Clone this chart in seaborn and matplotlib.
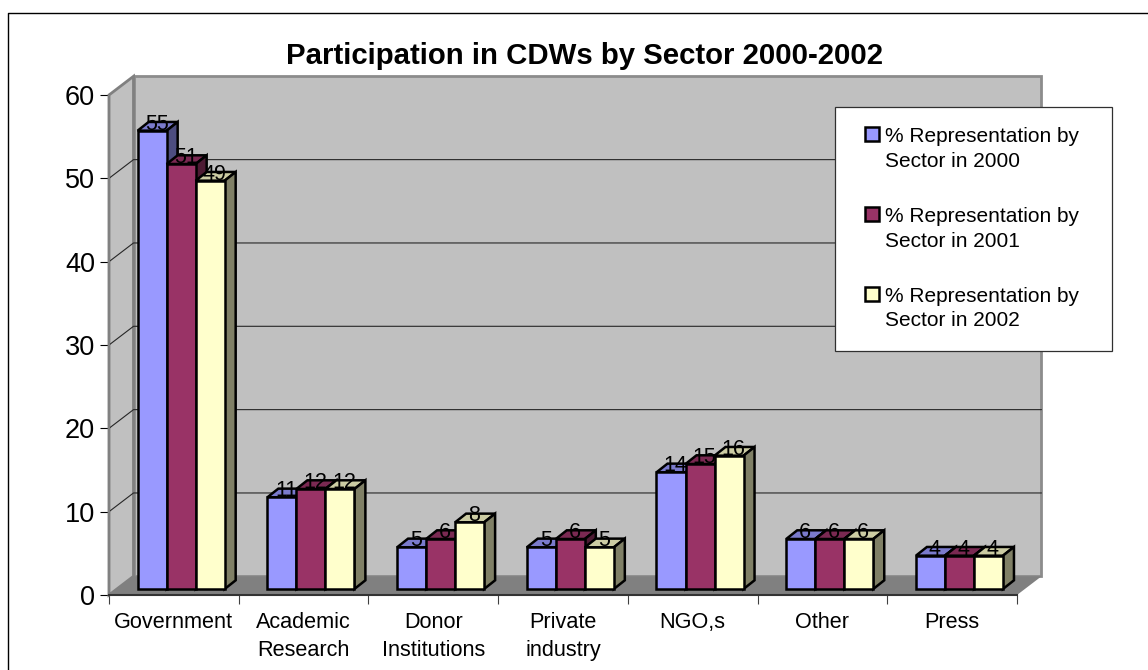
import numpy as np
import pandas as pd
import matplotlib
matplotlib.use("Agg")
import matplotlib.pyplot as plt
import seaborn as sns
from matplotlib.colors import to_rgb
from matplotlib.lines import Line2D
from matplotlib.patches import Patch, Polygon, Rectangle
from matplotlib.legend_handler import HandlerPatch
from matplotlib.transforms import Affine2D, IdentityTransform

# Data
sectors = ['Government', 'Academic\nResearch', 'Donor\nInstitutions', 'Private\nindustry',
           'NGO,s', 'Other', 'Press']
series_names = ['% Representation by\nSector in 2000',
                '% Representation by\nSector in 2001',
                '% Representation by\nSector in 2002']
values_2000 = [55, 11, 5, 5, 14, 6, 4]
values_2001 = [51, 12, 6, 6, 15, 6, 4]
values_2002 = [49, 12, 8, 5, 16, 6, 4]
bar_colors = ['#9999FF', '#993366', '#FFFFCC']
y_ticks = [0, 10, 20, 30, 40, 50, 60]

W, H = 1148, 670

sns.set_style("white", {'text.color': 'black', 'xtick.color': 'black', 'ytick.color': 'black'})
plt.rcParams['font.family'] = ['Liberation Sans', 'DejaVu Sans']

df = pd.DataFrame({
    'sector': sectors * 3,
    'series': [s for s in series_names for _ in sectors],
    'value': values_2000 + values_2001 + values_2002,
})

fig = plt.figure(figsize=(W / 100, H / 100), dpi=100)
ax = fig.add_axes([109 / W, (H - 595) / H, 908 / W, 500 / H])

sns.barplot(data=df, x='sector', y='value', hue='series', hue_order=series_names,
            palette=bar_colors, saturation=1, width=0.671, gap=0, edgecolor='black',
            linewidth=1.8, ax=ax, legend=False)
ax.set_xlim(-0.5, len(sectors) - 0.5)
ax.set_ylim(0, 60)
ax.set_xlabel('')
ax.set_ylabel('')

# depth of the box and of the bars, in pixels
wall_dx, wall_dy = 24.5, 18.7
bar_dx, bar_dy = 11, 8.7
shift_x, shift_y = 7.3, 6


def to_px(x, y):
    return ax.transData.transform((x, y))


def add_poly(points, color, z, edge='none', lw=0):
    ax.add_patch(Polygon(points, closed=True, facecolor=color, edgecolor=edge, linewidth=lw,
                         transform=IdentityTransform(), clip_on=False, zorder=z,
                         joinstyle='miter'))


# walls and floor
x0, x1 = ax.get_xlim()
y0, y1 = ax.get_ylim()
ll, lr, ul = to_px(x0, y0), to_px(x1, y0), to_px(x0, y1)
ur = to_px(x1, y1)
d = np.array([wall_dx, wall_dy])
ax.patch.set_visible(False)
add_poly([ll + d, lr + d, ur + d, ul + d], '#C0C0C0', 0.5, '#8C8C8C', 2)
add_poly([ll, ll + d, ul + d, ul], '#C0C0C0', 0.6, '#808080', 2)
add_poly([ll, lr, lr + d, ll + d], '#808080', 0.7)

# gridlines on both walls
for t in y_ticks[1:-1]:
    a, b = to_px(x0, t), to_px(x1, t)
    ax.add_line(Line2D([a[0], a[0] + wall_dx, b[0] + wall_dx], [a[1], a[1] + wall_dy, b[1] + wall_dy],
                       color='#262626', lw=0.8, transform=IdentityTransform(), clip_on=False, zorder=1))

# bars: move the fronts off the wall, add top and side, label
shift = ax.transData + Affine2D().translate(shift_x, shift_y)
for i, (container, color) in enumerate(zip(ax.containers, bar_colors)):
    rgb = np.array(to_rgb(color))
    for bar in container:
        bar.set_transform(shift)
        bar.set_clip_on(False)
        bar.set_zorder(4 + i * 2)
        bar.set_joinstyle('miter')
        bx, bw, bh = bar.get_x(), bar.get_width(), bar.get_height()
        a = to_px(bx, bh) + (shift_x, shift_y)
        b = to_px(bx + bw, bh) + (shift_x, shift_y)
        c = to_px(bx + bw, 0) + (shift_x, shift_y)
        e = np.array([bar_dx, bar_dy])
        add_poly([a, b, b + e, a + e], rgb * 0.8, 3 + i * 2, 'black', 1.8)
        add_poly([b, c, c + e, b + e], rgb * 0.5, 3 + i * 2, 'black', 1.8)
        ax.text(bx + bw / 2, bh, f'{bh:.0f}', ha='center', va='baseline', fontsize=15.5,
                color='black', zorder=20, clip_on=False,
                transform=ax.transData + Affine2D().translate(shift_x + 4.5, shift_y + 1))

# axes
for side in ['top', 'right']:
    ax.spines[side].set_visible(False)
ax.spines['left'].set_color('#808080')
ax.spines['left'].set_linewidth(1.5)
ax.spines['bottom'].set_color('#333333')
ax.spines['bottom'].set_linewidth(1.5)
for sp in ax.spines.values():
    sp.set_zorder(2)

ax.set_yticks(y_ticks)
ax.tick_params(axis='y', length=6.5, width=0.8, color='black', labelsize=19.5, pad=3.5, left=True)
ax.set_xticks(np.arange(len(sectors) + 1) - 0.5, [''] * (len(sectors) + 1))
ax.set_xticks(np.arange(len(sectors)), sectors, minor=True)
ax.tick_params(axis='x', which='major', length=6.5, width=0.8, color='#404040', bottom=True)
ax.tick_params(axis='x', which='minor', length=0, labelsize=15.6, pad=12.2, bottom=False)
for lab in ax.get_xticklabels(minor=True):
    lab.set_linespacing(1.45)

fig.text(585 / W, (H - 56.5) / H, 'Participation in CDWs by Sector 2000-2002', ha='center', va='center',
         fontsize=21.2, fontweight='bold', color='black')


# legend: swatch sits beside the first line of its label
def swatch(legend, orig_handle, xdescent, ydescent, width, height, fontsize):
    size = 10
    return Rectangle((width - size - xdescent - 1, height + 0.5), size, size)


handles = [Patch(facecolor=c, edgecolor='black', linewidth=1.8) for c in bar_colors]
leg = ax.legend(handles, series_names, loc='upper left',
                bbox_to_anchor=(835 / W, (H - 347) / H, 277 / W, 240 / H), bbox_transform=fig.transFigure,
                mode='expand', borderaxespad=0, borderpad=0.97, fontsize=15, labelspacing=1.73,
                handlelength=1.22, handletextpad=0.2, fancybox=False, framealpha=1,
                edgecolor='#303030', handler_map={Patch: HandlerPatch(patch_func=swatch)})
leg.get_frame().set_linewidth(0.9)
leg.set_zorder(30)
for t in leg.get_texts():
    t.set_linespacing(1.38)
    t.set_color('black')

# page frame of the embedded chart
fig.add_artist(Line2D([7.5, 7.5, W], [0, H - 12.5, H - 12.5], color='black', lw=1,
                      transform=IdentityTransform()))

fig.savefig('out.png', dpi=100)
